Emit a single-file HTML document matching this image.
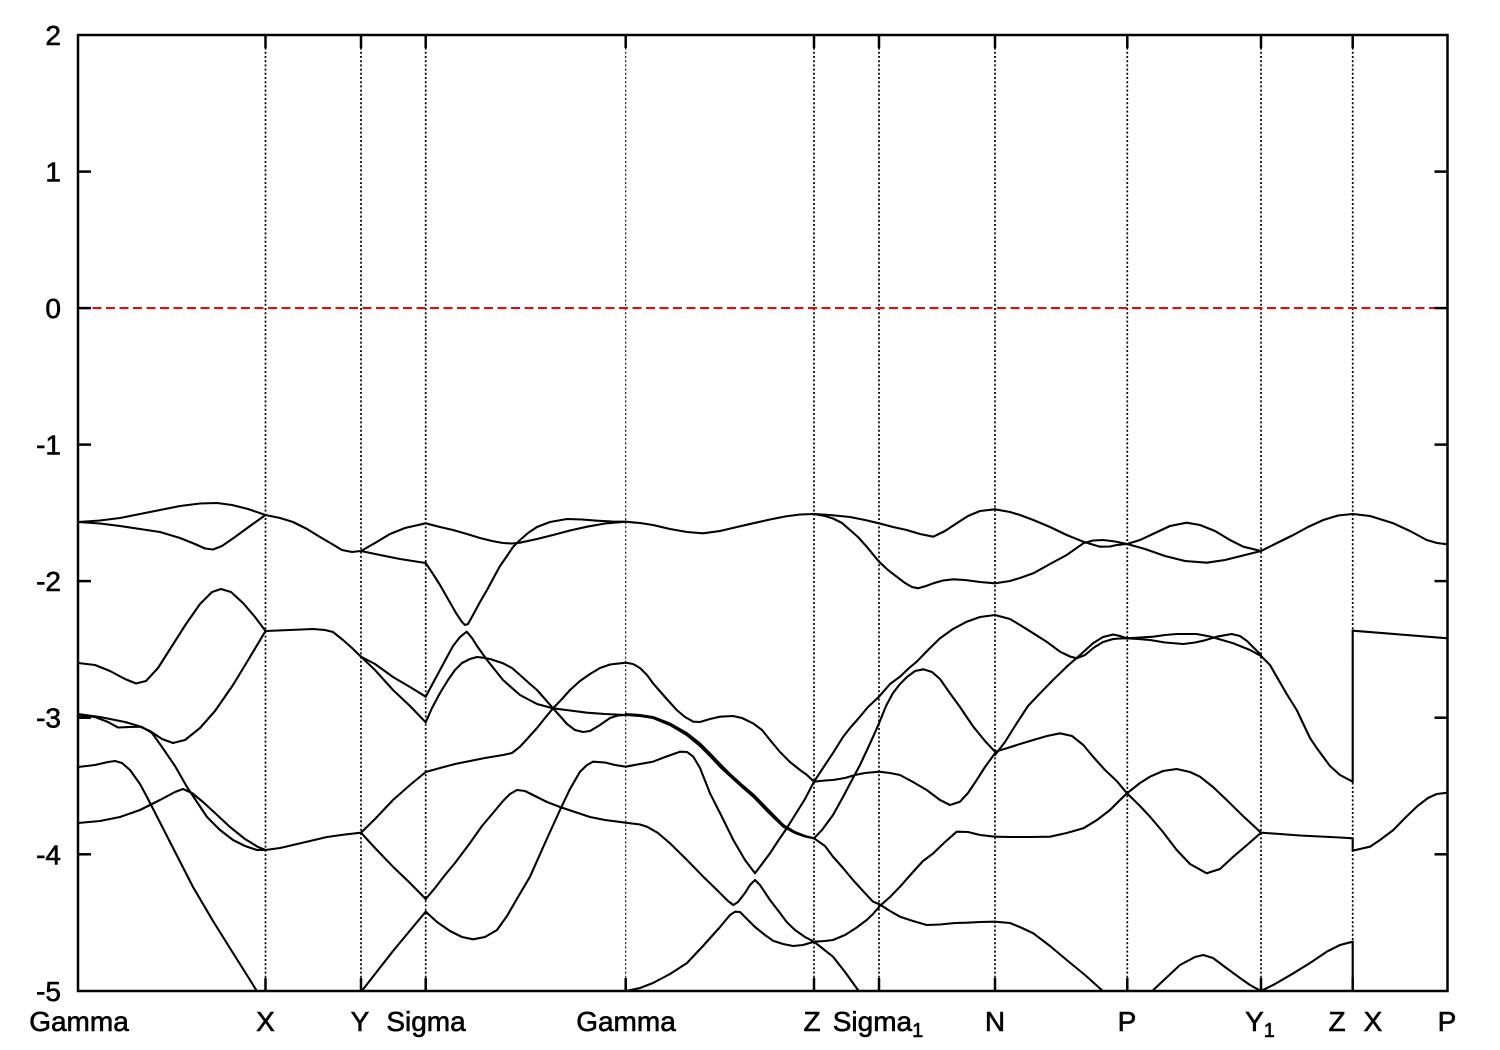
<!DOCTYPE html>
<html>
<head>
<meta charset="utf-8">
<style>
  html,body{margin:0;padding:0;background:#fff;}
  svg{display:block;}
  text{font-family:"Liberation Sans", Arial, sans-serif; font-size:28px; fill:#000; stroke:#000; stroke-width:0.6px;}
</style>
</head>
<body>
<svg width="1500" height="1050" viewBox="0 0 1500 1050" xmlns="http://www.w3.org/2000/svg">
  <defs>
    <clipPath id="plot"><rect x="78" y="35" width="1370" height="956"/></clipPath>
  </defs>
  <rect x="0" y="0" width="1500" height="1050" fill="#fff"/>

  <!-- vertical dotted lines -->
  <g stroke="#000" stroke-width="1.7" stroke-dasharray="2,2.2" fill="none">
    <line x1="265.5" y1="35" x2="265.5" y2="991"/>
    <line x1="361" y1="35" x2="361" y2="991"/>
    <line x1="425.7" y1="35" x2="425.7" y2="991"/>
    <line x1="625.7" y1="35" x2="625.7" y2="991" stroke-width="1.1"/>
    <line x1="814" y1="35" x2="814" y2="991"/>
    <line x1="879" y1="35" x2="879" y2="991"/>
    <line x1="995" y1="35" x2="995" y2="991"/>
    <line x1="1127.3" y1="35" x2="1127.3" y2="991"/>
    <line x1="1261" y1="35" x2="1261" y2="991"/>
    <line x1="1352.7" y1="35" x2="1352.7" y2="991"/>
  </g>

  <!-- Fermi level -->
  <line x1="79" y1="308" x2="1447" y2="308" stroke="#ff0000" stroke-width="2" stroke-dasharray="9,4.5"/>

  <!-- bands -->
  <g clip-path="url(#plot)" stroke="#000" stroke-width="2.1" fill="none" stroke-linejoin="round" stroke-linecap="round">
    <!-- Gamma -> X -->
    <polyline points="78,522 100,520.5 120,518 140,514 160,510 180,506 200,503.5 217,503 232,505 248,509 265.5,515"/>
    <polyline points="78,522 100,523.5 120,526 140,529 160,532 180,538 195,544 205,548.5 213,549.5 222,546 235,537 250,526 265.5,515"/>
    <polyline points="78,663 95,665 110,671 125,679 136,683.5 146,681 158,668 172,646 186,624 200,604 212,592 221,589 231,592 243,603 255,617 265.5,631"/>
    <polyline points="78,715 95,717 108,722 118,727.5 130,727 140,726.7 150,731 162,739 173,743 185,740 200,728 215,711 233,685 250,657 265.5,631"/>
    <polyline points="78,714 100,717 125,722 142,727 152,733 162,747 175,766 187,787 197,802 207,817 220,830 233,840 245,846 257,850 265.5,850"/>
    <polyline points="78,823 100,821 120,817 140,810 160,800 175,792 183,789 192,793 203,802 215,813 230,827 245,839 258,847 265.5,850"/>
    <polyline points="78,767 95,765 108,762 115,761 122,763 130,770 140,784 147,797 170,842 193,887 213,921 233,953 250,980 258,993"/>

    <!-- X -> Y -->
    <polyline points="265.5,515 280,518 293,522 307,529 320,537 332,544 342,550 352,552 361,551"/>
    <polyline points="265.5,631 290,630 313,629 325,630 333,632 343,640 352,648 361,656.7"/>
    <polyline points="265.5,850 280,848 293,845 310,841 327,837 345,834.5 361,832.7"/>

    <!-- Y -> Sigma -->
    <polyline points="361,551 375,543 390,534 405,528 425.7,523.3"/>
    <polyline points="361,551 380,555 400,559 425.7,563"/>
    <polyline points="361,656.7 375,664 393,677 410,687 425.7,696.7"/>
    <polyline points="361,656.7 375,670 393,690 410,706 425.7,722.3"/>
    <polyline points="361,832.7 375,819 393,800 410,785 425.7,772"/>
    <polyline points="361,832.7 375,848 393,866.7 410,883 425.7,899"/>
    <polyline points="361,992 393,951 425.7,911.7"/>

    <!-- Sigma -> Gamma -->
    <polyline points="425.7,523.3 440,527 453,530 467,534 480,538 492,541 503,543 512,543.5 520,542.7 537,539 553,535 570,530.5 587,526.7 605,523.5 625.7,521.7"/>
    <polyline points="425.7,563 433,574 440,585 448,599 456,613 462,622 465,625 468,624 473,615 480,602 487,590 494,577 500,566 507,556 513,547 520,540 528,533 537,527 550,522 567,519 582,519.5 597,520.7 612,521.5 625.7,521.7"/>
    <polyline points="425.7,696.7 433,683 440,670 447,657 453,646 460,637 466.7,631.7 472,638 477,646 487,660 495,670 503,680 512,688 520,695 537,704 553,708.3 570,710.5 587,712.7 605,714 625.7,715"/>
    <polyline points="425.7,722.3 432,708 440,693 448,680 455,670 462,663 470,659 477,657 483,657.7 490,659 503,663.3 512,668 520,675 530,684 537,690 545,699 553,708.3 560,716 567,724 575,730 583,732 590,731 600,725 610,718 618,715.5 625.7,715"/>
    <polyline points="425.7,772 440,768 455,764 470,761 485,758 503,755 512,753 520,746.7 528,738 537,728 545,718 553,708.3 562,699 570,690 580,681 590,674 600,668 610,664.5 625.7,662.7"/>
    <polyline points="425.7,899 435,888 445,875 455,863 470,843 482,826 493,813 503,801 510,794 517,790 525,791 535,796 547,802 560,807 575,812 590,817 605,820 625.7,822.7"/>
    <polyline points="425.7,911.7 437,922 450,931 462,937 473,939.3 485,937 497,930 507,916 518,897 530,876.7 545,843 560,810 570,789 580,771.7 587,765 593,761.7 605,762.5 615,765 625.7,766.7"/>

    <!-- Gamma -> Z -->
    <polyline points="625.7,991 640,988 653,983 670,974 687,963 703,946 720,927 730,915 735,911.7 740,912 748,920 755,927 765,935 773,940.7 783,944 793,946 803,945 814,941.7"/>
    <polyline points="625.7,521.7 640,523 653,525 670,529 687,532 703,533.3 720,531 737,527 753,523.3 770,519.5 785,516.5 800,514.5 814,514"/>
    <polyline points="625.7,662.7 633,664 640,668 647,675 653,683.3 665,697 676.7,710 685,717 693.3,721.7 700,722 710,719 720,716.7 733,716 742,718 753,723.3 762,730 770,740 780,752 790,762 800,770 807,775 814,781.7"/>
    <polyline points="625.7,715 640,716 653,718 670,725 686.7,735 700,746 710,756 720,766.7 730,776 741,786 753.3,796.7 768,812 783.3,826.7 795,833 805,836.5 814,838.3"/>
    <polyline points="625.7,714 640,715 653,717 670,723.5 686.7,733 700,743.5 710,753.5 720,764 730,774 741,784 753.3,794.5 768,809.5 783.3,825 795,832 805,836 814,838.3"/>
    <polyline points="625.7,766.7 640,764 653,761.7 665,757 680,751.7 687,752 693.3,756.7 700,768 710,793.3 722,817 733.3,840 745,860 755,873.3 762,864 770,853.3 778,841 786.7,828.3 795,815 805,799 814,781.7"/>
    <polyline points="625.7,822.7 640,824.5 647,826.7 658,833 670,843.3 687,860 703.3,876.7 718,891 728,901 733.3,905 738,902 745,893 750,885 755,880 760,885 770,900 780,913 786.7,922 795,930 805,937 814,941.7"/>

    <!-- Z -> Sigma1 -->
    <polyline points="814,514 830,515 850,517 865,520 879,523.3"/>
    <polyline points="814,514 825,516 833,518.5 842,523 850,530 858,537 866.7,546.7 879,561.7"/>
    <polyline points="814,781.7 823,768 833,753 843,737 850,728 858,719 868,707 879,696.7"/>
    <polyline points="814,838.3 822,830 833,815 843,797 853,778 860,765 867,750 873,737 879,723.3"/>
    <polyline points="814,781.7 825,780.5 833,780 845,778 855,775 865,773 879,771.7"/>
    <polyline points="814,838.3 825,846 833,856.7 843,868 853,880 863,891 873,901.7 879,904"/>
    <polyline points="814,941.7 825,941 833,940 845,935 856,928 866.7,920 873,914 879,907"/>
    <polyline points="814,941.7 822,948 833,956.7 845,972 858,990 862,996"/>

    <!-- Sigma1 -> N -->
    <polyline points="879,523.3 893,527 906.7,530 920,534 933.3,536.7 945,531 956.7,523.3 968,516 980,511 995,509.3"/>
    <polyline points="879,561.7 888,570 896.7,576.7 905,583 912,587 918.3,588.3 926,586 933.3,583.3 943,580.5 953.3,579.3 965,580 980,582 995,583.3"/>
    <polyline points="879,696.7 890,684 900,676.7 908,669 916.7,661.7 928,650 940,638.3 953,629 966.7,621.7 980,617 995,615"/>
    <polyline points="879,723.3 886,706 893,693 900,684 907,677 915,671 923.3,669.3 932,672 940,679 950,693.3 960,707 966,716 973.3,726.7 985,741 995,751.7"/>
    <polyline points="879,771.7 890,773 900,775 913,782 926.7,790 940,800 950,805 960,801.7 968,793 976.7,780 985,767 995,753.3"/>
    <polyline points="879,906.7 890,897 900,886.7 913,872 923,861 933.3,853.3 945,842 956.7,831.7 968,832 980,835 995,836.7"/>
    <polyline points="879,904 890,911 900,916.7 913,921 926.7,925 940,924.5 955,923 966.7,922.7 980,922 995,921.7"/>

    <!-- N -> P -->
    <polyline points="995,509.3 1010,512 1020,515 1033.3,520 1050,527 1066.7,535 1083.3,541.7 1100,546.7 1110,546.5 1116.7,545 1127,544"/>
    <polyline points="995,583.3 1010,581 1020,578 1033.3,573.3 1050,564 1066.7,555 1083.3,543.3 1093,540.5 1103.3,540 1115,541.5 1127,544"/>
    <polyline points="995,615 1010,619 1020,625 1033.3,633.3 1047,642 1060,651.7 1070,656.5 1076.7,658.3 1085,655 1093.3,648 1103,642 1113.3,639 1120,638.5 1127,638.3"/>
    <polyline points="995,755 1005,742 1016.7,723.3 1028,706 1040,693.3 1053,680 1066.7,666.7 1080,655 1093.3,643 1103,637 1113.3,634.5 1120,636 1127,638.3"/>
    <polyline points="995,751.7 1006.7,748.3 1020,744 1033.3,740 1047,736 1060,733.3 1072,736 1083.3,745 1093.3,757 1105,770 1116.7,781 1127,793.3"/>
    <polyline points="995,836.7 1010,837 1030,837 1050,836.7 1066.7,833 1083.3,828.3 1097,820 1110,810 1120,800 1127,793.3"/>
    <polyline points="995,921.7 1010,923 1022,928 1033.3,933.3 1050,946 1066.7,960 1085,975 1101.7,990 1105,993"/>

    <!-- P -> Y1 -->
    <polyline points="1127,544 1140,540 1155,533 1170,526 1186.7,522.7 1200,525 1215,531 1230,540 1243.3,546.7 1261,551"/>
    <polyline points="1127,544 1145,549 1165,556 1185,561 1206.7,562.7 1225,560 1243,555.5 1261,551"/>
    <polyline points="1127,638.3 1140,637.5 1153.3,636.7 1165,635 1176.7,634 1196.7,634 1210,636.5 1222,640 1233.3,643.3 1250,650 1261,656"/>
    <polyline points="1127,638.3 1138,639 1150,640 1165,642.5 1183.3,644 1195,642.5 1203.3,640.7 1216.7,636.7 1231.7,634 1240,636 1247,641 1254,648 1261,655"/>
    <polyline points="1127,793.3 1140,783 1150,776.7 1163,771 1176.7,769 1190,772 1200,776.7 1213,787 1226.7,800 1243,816 1261,832.7"/>
    <polyline points="1127,793.3 1140,806 1150,816.7 1163,832 1176.7,850 1190,864 1206.7,873.3 1220,869 1233.3,856.7 1247,845 1261,832.7"/>
    <polyline points="1150,994 1153.3,990 1165,979 1180,965 1195,957 1203.3,955 1213,958 1225,967 1240,978 1250,985 1261,991"/>

    <!-- Y1 -> Z -->
    <polyline points="1261,551 1277,543 1293.3,535 1308,527 1323.3,520 1338,515.5 1352.7,514"/>
    <polyline points="1261,656 1270,665 1276.7,676.7 1286.7,694 1296.7,710 1310,738 1316.7,748 1330,766 1340,775 1352.7,781.7"/>
    <polyline points="1261,832.7 1280,834 1300,835.5 1320,836.5 1340,837.5 1352.7,838.3"/>
    <polyline points="1261,991 1275,984 1293.3,973.3 1310,963 1326.7,951.7 1340,945 1352.7,941.7"/>

    <!-- X -> P -->
    <polyline points="1352.7,514 1370,516 1393.3,523.3 1410,531 1426.7,540 1437,543 1447.7,544.3"/>
    <polyline points="1352.7,630.7 1400,634.5 1447.7,638.3"/>
    <polyline points="1352.7,850.7 1362,848.5 1370,846.7 1380,840 1393.3,830 1405,818 1416.7,806.7 1428,798 1436.7,794 1447.7,792.7"/>

    <!-- discontinuity jumps at Z|X -->
    <line x1="1352.7" y1="630.7" x2="1352.7" y2="781.7"/>
    <line x1="1352.7" y1="838.3" x2="1352.7" y2="850.7"/>
    <line x1="1352.7" y1="941.7" x2="1352.7" y2="991"/>
  </g>

  <!-- border -->
  <rect x="78" y="35" width="1369.5" height="956" fill="none" stroke="#000" stroke-width="2.5"/>

  <!-- ticks -->
  <g stroke="#000" stroke-width="2.5">
    <line x1="78" y1="171.6" x2="91" y2="171.6"/>
    <line x1="78" y1="308.1" x2="91" y2="308.1"/>
    <line x1="78" y1="444.6" x2="91" y2="444.6"/>
    <line x1="78" y1="581.1" x2="91" y2="581.1"/>
    <line x1="78" y1="717.7" x2="91" y2="717.7"/>
    <line x1="78" y1="854.3" x2="91" y2="854.3"/>
    <line x1="1434.5" y1="171.6" x2="1447.5" y2="171.6"/>
    <line x1="1434.5" y1="308.1" x2="1447.5" y2="308.1"/>
    <line x1="1434.5" y1="444.6" x2="1447.5" y2="444.6"/>
    <line x1="1434.5" y1="581.1" x2="1447.5" y2="581.1"/>
    <line x1="1434.5" y1="717.7" x2="1447.5" y2="717.7"/>
    <line x1="1434.5" y1="854.3" x2="1447.5" y2="854.3"/>
    <line x1="265.5" y1="978" x2="265.5" y2="991"/>
    <line x1="361" y1="978" x2="361" y2="991"/>
    <line x1="425.7" y1="978" x2="425.7" y2="991"/>
    <line x1="625.7" y1="978" x2="625.7" y2="991"/>
    <line x1="814" y1="978" x2="814" y2="991"/>
    <line x1="879" y1="978" x2="879" y2="991"/>
    <line x1="995" y1="978" x2="995" y2="991"/>
    <line x1="1127.3" y1="978" x2="1127.3" y2="991"/>
    <line x1="1261" y1="978" x2="1261" y2="991"/>
    <line x1="1352.7" y1="978" x2="1352.7" y2="991"/>
    <line x1="265.5" y1="35" x2="265.5" y2="48"/>
    <line x1="361" y1="35" x2="361" y2="48"/>
    <line x1="425.7" y1="35" x2="425.7" y2="48"/>
    <line x1="625.7" y1="35" x2="625.7" y2="48"/>
    <line x1="814" y1="35" x2="814" y2="48"/>
    <line x1="879" y1="35" x2="879" y2="48"/>
    <line x1="995" y1="35" x2="995" y2="48"/>
    <line x1="1127.3" y1="35" x2="1127.3" y2="48"/>
    <line x1="1261" y1="35" x2="1261" y2="48"/>
    <line x1="1352.7" y1="35" x2="1352.7" y2="48"/>
  </g>

  <!-- y labels -->
  <g text-anchor="end">
    <text x="61" y="45">2</text>
    <text x="61" y="181.6">1</text>
    <text x="61" y="318.1">0</text>
    <text x="61" y="454.6">-1</text>
    <text x="61" y="591.1">-2</text>
    <text x="61" y="727.7">-3</text>
    <text x="61" y="864.3">-4</text>
    <text x="61" y="1001">-5</text>
  </g>

  <!-- x labels -->
  <g text-anchor="middle">
    <text x="79" y="1031">Gamma</text>
    <text x="265.5" y="1031">X</text>
    <text x="360" y="1031">Y</text>
    <text x="426" y="1031">Sigma</text>
    <text x="626" y="1031">Gamma</text>
    <text x="812" y="1031">Z</text>
    <text x="878" y="1031">Sigma<tspan font-size="20" dy="6">1</tspan></text>
    <text x="995" y="1031">N</text>
    <text x="1127" y="1031">P</text>
    <text x="1260" y="1031">Y<tspan font-size="20" dy="6">1</tspan></text>
    <text x="1337" y="1031">Z</text>
    <text x="1373" y="1031">X</text>
    <text x="1447" y="1031">P</text>
  </g>
</svg>
</body>
</html>
